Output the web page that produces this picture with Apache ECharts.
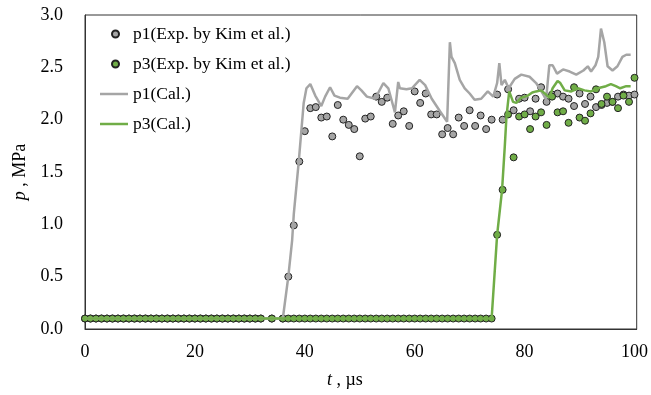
<!DOCTYPE html>
<html>
<head>
<meta charset="utf-8">
<script src="https://cdn.jsdelivr.net/npm/echarts@6/dist/echarts.min.js"></script>
<style>html,body{margin:0;padding:0;background:#fff}#c{width:651px;height:395px}</style>
</head>
<body>
<div id="c"></div>
<script>
// Experimental data (x in µs, p in MPa)
const p1ExpX = [0,1,2,3,4,5,6,7,8,9,10,11,12,13,14,15,16,17,18,19,20,21,22,23,24,25,26,27,28,29,30,31,32,34,36,
  37,38,39,40,41,42,43,44,45,46,47,48,49,50,51,52,53,54,55,56,57,58,59,60,61,62,63,64,65,66,67,68,69,70,
  71,72,73,74,75,76,77,78,79,80,81,82,83,84,85,86,87,88,89,90,91,92,93,94,95,96,97,98,99,100];
const p1ExpY = [0.1,0.1,0.1,0.1,0.1,0.1,0.1,0.1,0.1,0.1,0.1,0.1,0.1,0.1,0.1,0.1,0.1,0.1,0.1,0.1,0.1,0.1,0.1,0.1,0.1,0.1,0.1,0.1,0.1,0.1,0.1,0.1,0.1,0.1,0.1,
  0.50,0.99,1.60,1.89,2.11,2.12,2.02,2.03,1.84,2.14,2.00,1.95,1.91,1.65,2.01,2.03,2.22,2.17,2.21,1.96,2.04,2.08,1.94,2.27,2.16,2.25,2.05,2.05,1.86,1.92,1.86,2.02,1.94,2.09,
  1.94,2.04,1.91,2.00,2.24,2.00,2.29,2.09,2.20,2.21,2.08,2.20,2.31,2.17,2.24,2.25,2.22,2.20,2.13,2.25,2.15,2.22,2.12,2.14,2.16,2.17,2.22,2.24,2.23,2.24];
const p3ExpX = [0,1,2,3,4,5,6,7,8,9,10,11,12,13,14,15,16,17,18,19,20,21,22,23,24,25,26,27,28,29,30,31,32,34,36,
  37,38,39,40,41,42,43,44,45,46,47,48,49,50,51,52,53,54,55,56,57,58,59,60,61,62,63,64,65,66,67,68,69,70,71,72,73,74,
  75,76,77,78,79,80,81,82,83,84,85,86,87,88,89,90,91,92,93,94,95,96,97,98,99,100];
const p3ExpY = [0.1,0.1,0.1,0.1,0.1,0.1,0.1,0.1,0.1,0.1,0.1,0.1,0.1,0.1,0.1,0.1,0.1,0.1,0.1,0.1,0.1,0.1,0.1,0.1,0.1,0.1,0.1,0.1,0.1,0.1,0.1,0.1,0.1,0.1,0.1,
  0.1,0.1,0.1,0.1,0.1,0.1,0.1,0.1,0.1,0.1,0.1,0.1,0.1,0.1,0.1,0.1,0.1,0.1,0.1,0.1,0.1,0.1,0.1,0.1,0.1,0.1,0.1,0.1,0.1,0.1,0.1,0.1,0.1,0.1,0.1,0.1,0.1,0.1,
  0.90,1.33,2.05,1.64,2.03,2.05,1.91,2.03,2.07,1.95,2.22,2.07,2.08,1.97,2.31,2.02,1.99,2.06,2.29,2.15,2.22,2.17,2.11,2.23,2.17,2.40];

// Calculated curves
const p1CalX = [0,36.0,37.0,37.7,38.0,38.9,39.8,40.3,41.0,41.9,43.0,43.7,44.6,45.4,46.4,47.8,49.5,50.3,51.3,52.8,54.3,55.2,56.4,57.0,57.3,58.5,59.5,60.9,61.9,63.1,64.6,65.9,66.4,66.7,67.3,68.2,69.1,70.0,70.9,72.1,73.3,74.3,75.0,75.4,75.8,76.4,77.1,78.2,79.4,80.9,82.1,83.3,83.9,84.5,85.1,85.9,87.0,88.2,89.4,90.7,91.5,92.1,92.9,93.4,93.9,94.5,95.1,96.0,96.9,97.8,98.5,99.3];
const p1CalY = [0.1,0.1,0.5,0.85,1.1,1.6,2.16,2.30,2.34,2.23,2.13,2.22,2.31,2.23,2.21,2.20,2.32,2.28,2.22,2.20,2.35,2.30,2.07,2.36,2.30,2.29,2.30,2.38,2.33,2.20,2.08,1.98,2.74,2.60,2.54,2.38,2.30,2.25,2.19,2.20,2.27,2.22,2.35,2.54,2.33,2.38,2.30,2.39,2.43,2.41,2.35,2.25,2.19,2.52,2.52,2.44,2.48,2.46,2.43,2.47,2.51,2.46,2.52,2.60,2.87,2.74,2.51,2.47,2.51,2.60,2.62,2.62];
const p3CalX = [0,74.0,75.0,75.9,76.4,76.7,77.2,77.9,78.5,79.4,80.6,81.4,82.1,83.0,83.9,84.5,85.1,86.0,86.5,87.3,88.5,89.7,90.9,92.1,93.3,94.8,95.7,96.6,97.4,98.5,99.3];
const p3CalY = [0.1,0.1,0.9,1.33,1.75,2.03,2.27,2.17,2.16,2.21,2.23,2.26,2.27,2.28,2.24,2.21,2.30,2.37,2.35,2.28,2.27,2.30,2.28,2.27,2.30,2.32,2.34,2.32,2.30,2.32,2.32];

const xTicks = [0,20,40,60,80,100];
const yTicks = [0.0,0.5,1.0,1.5,2.0,2.5,3.0];

const names = ['p1(Exp. by Kim et al.)','p3(Exp. by Kim et al.)','p1(Cal.)','p3(Cal.)'];
const zip = (xs, ys) => xs.map((x, i) => [x, ys[i]]);

const FONT = '"Liberation Serif","Times New Roman",serif';
const chart = echarts.init(document.getElementById('c'));
chart.setOption({
  animation: false,
  textStyle: {fontFamily: FONT, color: '#000'},
  grid: {left: 85, right: 13.5, top: 15, bottom: 66, show: true, borderColor: '#333', borderWidth: 1},
  legend: [
    {data: [names[0], names[1]], orient: 'vertical', left: 111, top: 25, padding: 0, icon: 'circle',
     itemWidth: 7, itemHeight: 7, itemGap: 12,
     textStyle: {fontFamily: FONT, fontSize: 17.5, color: '#000', padding: [0,0,0,9]}},
    {data: [names[2], names[3]], orient: 'vertical', left: 100, top: 85, padding: 0, icon: 'rect',
     itemWidth: 28, itemHeight: 2.5, itemGap: 12,
     textStyle: {fontFamily: FONT, fontSize: 17.5, color: '#000'}}
  ],
  xAxis: {
    type: 'value', min: xTicks[0], max: 100.4, interval: 20,
    axisLine: {show: true, lineStyle: {color: '#333'}}, axisTick: {show: false}, splitLine: {show: false},
    axisLabel: {fontFamily: FONT, fontSize: 18, color: '#000', margin: 14,
      formatter: v => xTicks.indexOf(v) >= 0 ? String(v) : ''},
    name: '{i|t} , µs', nameLocation: 'middle', nameGap: 42,
    nameTextStyle: {fontFamily: FONT, fontSize: 18, color: '#000', padding: [0, 32, 0, 0],
      rich: {i: {fontStyle: 'italic', fontFamily: FONT, fontSize: 18}}}
  },
  yAxis: {
    type: 'value', min: yTicks[0], max: yTicks[yTicks.length-1], interval: 0.5,
    axisLine: {show: true, lineStyle: {color: '#333'}}, axisTick: {show: false}, splitLine: {show: false},
    axisLabel: {fontFamily: FONT, fontSize: 18, color: '#000', margin: 22, formatter: v => v.toFixed(1)},
    name: '{i|p} , MPa', nameLocation: 'middle', nameGap: 52,
    nameTextStyle: {fontFamily: FONT, fontSize: 18, color: '#000', rich: {i: {fontStyle: 'italic', fontFamily: FONT, fontSize: 18}}}
  },
  series: [
    {name: names[0], type: 'scatter', data: zip(p1ExpX, p1ExpY), symbolSize: 7,
     itemStyle: {color: '#A5A5A5', borderColor: '#222', borderWidth: 1, opacity: 1}},
    {name: names[1], type: 'scatter', data: zip(p3ExpX, p3ExpY), symbolSize: 7,
     itemStyle: {color: '#70AD47', borderColor: '#222', borderWidth: 1, opacity: 1}},
    {name: names[2], type: 'line', data: zip(p1CalX, p1CalY), symbol: 'none',
     lineStyle: {color: '#A5A5A5', width: 2.5}, itemStyle: {color: '#A5A5A5'}},
    {name: names[3], type: 'line', data: zip(p3CalX, p3CalY), symbol: 'none',
     lineStyle: {color: '#70AD47', width: 2.5}, itemStyle: {color: '#70AD47'}}
  ]
});
</script>
</body>
</html>
